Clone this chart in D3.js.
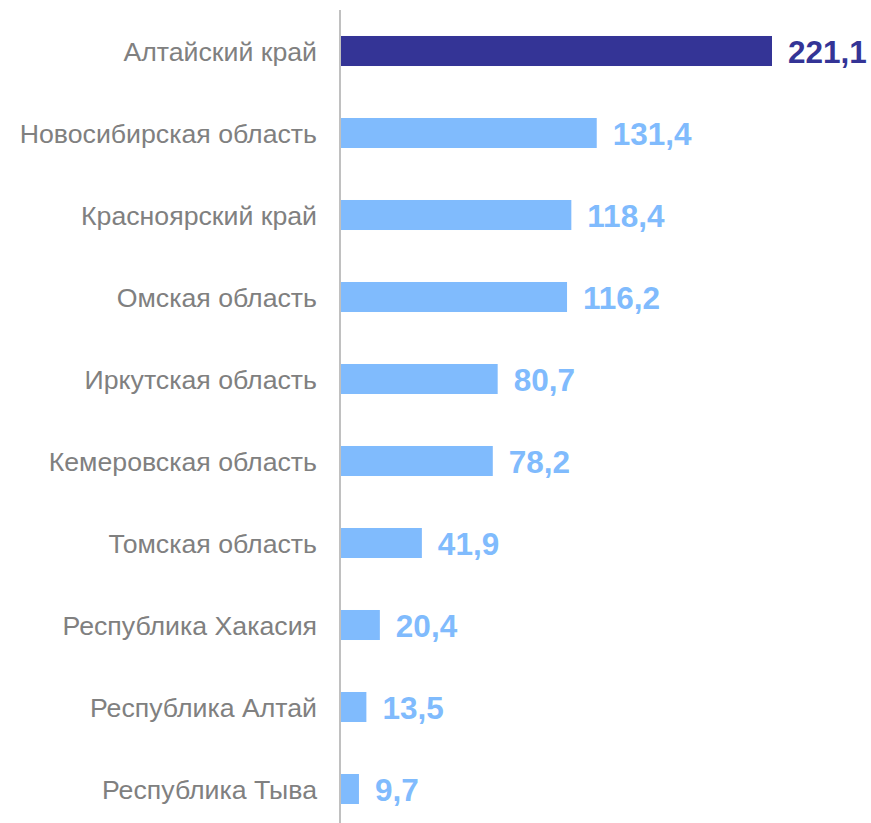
<!DOCTYPE html>
<html>
<head>
<meta charset="utf-8">
<script src="https://cdn.jsdelivr.net/npm/d3@7"></script>
<style>
	body { margin: 0; background: #fff; }
	svg { display: block; }
</style>
</head>
<body>
<svg id="chart"></svg>
<script>
const regions = [
	'Алтайский край',
	'Новосибирская область',
	'Красноярский край',
	'Омская область',
	'Иркутская область',
	'Кемеровская область',
	'Томская область',
	'Республика Хакасия',
	'Республика Алтай',
	'Республика Тыва'
];
const values = [221.1, 131.4, 118.4, 116.2, 80.7, 78.2, 41.9, 20.4, 13.5, 9.7];
const highlight = 'Алтайский край';

const width = 871;
const height = 823;
const axisX = 340;
const DARK = '#343496';
const LIGHT = '#80bbfd';

const svg = d3.select('#chart').attr('width', width).attr('height', height);

const data = regions.map((r, i) => ({ region: r, value: values[i] }));

const x = d3.scaleLinear().domain([0, 221.1]).range([axisX, 772]);
const y = d3.scaleBand()
	.domain(regions)
	.range([10, 830])
	.paddingInner(0.634)
	.paddingOuter(0.317);

const fmt = v => d3.format('.1f')(v).replace('.', ',');

// bars
svg.selectAll('rect.bar')
	.data(data)
	.enter()
	.append('rect')
	.attr('class', 'bar')
	.attr('x', x(0))
	.attr('y', d => y(d.region))
	.attr('width', d => x(d.value) - x(0))
	.attr('height', y.bandwidth())
	.attr('fill', d => d.region === highlight ? DARK : LIGHT);

// axis line
svg.append('line')
	.attr('x1', axisX).attr('x2', axisX)
	.attr('y1', 10).attr('y2', height)
	.attr('stroke', '#c0c0c0')
	.attr('stroke-width', 2);

// category labels
svg.selectAll('text.cat')
	.data(data)
	.enter()
	.append('text')
	.attr('class', 'cat')
	.attr('x', axisX - 23)
	.attr('y', d => y(d.region) + y.bandwidth() / 2)
	.attr('dy', '0.37em')
	.attr('text-anchor', 'end')
	.attr('font-family', 'Liberation Sans, Arial, sans-serif')
	.attr('font-size', 26.7)
	.attr('fill', '#808080')
	.text(d => d.region);

// value labels
svg.selectAll('text.val')
	.data(data)
	.enter()
	.append('text')
	.attr('class', 'val')
	.attr('x', d => x(d.value) + 16)
	.attr('y', d => y(d.region) + y.bandwidth() / 2)
	.attr('dy', '0.37em')
	.attr('font-family', 'Liberation Sans, Arial, sans-serif')
	.attr('font-weight', 'bold')
	.attr('font-size', 31.5)
	.attr('fill', d => d.region === highlight ? DARK : LIGHT)
	.text(d => fmt(d.value));
</script>
</body>
</html>
